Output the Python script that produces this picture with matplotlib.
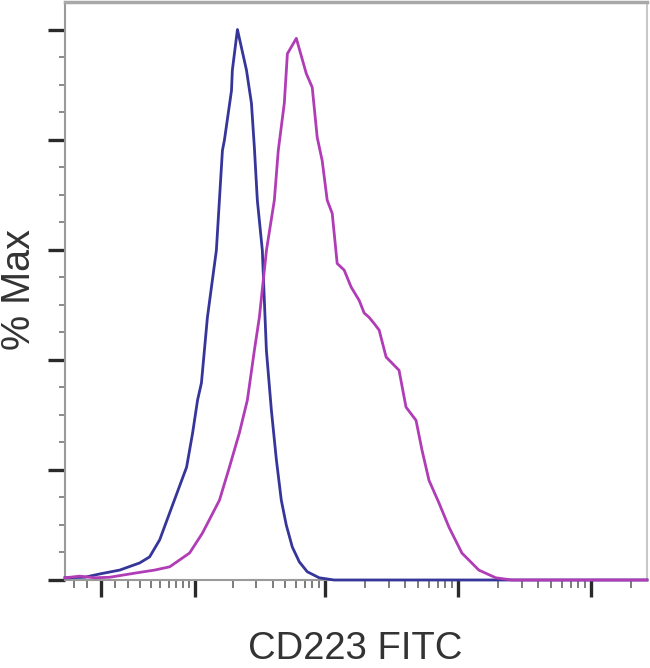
import numpy as np
import matplotlib
matplotlib.use("Agg")
import matplotlib.pyplot as plt

# ---- data (fluorescence intensity, % of max) ----
blue_x = [-27, -11.5, -0.7, 13.7, 29.8, 39, 49.5, 67.6, 86, 96.4, 105.8, 113.6,
          126.7, 149, 166, 172, 195, 198, 216.6, 254, 277, 291.5, 307, 335,
          347, 359.6, 392, 428, 466, 508, 564, 637, 731, 900, 1165, 262144]
blue_y = [0.4, 0.5, 1.1, 1.8, 3.1, 4.2, 7.3, 14.5, 20.5, 26.7, 32.7, 35.8,
          47.7, 59.9, 78, 79.9, 88.9, 92.6, 100, 92.6, 86.6, 78.6, 69, 59.9,
          50.8, 41.7, 30.9, 21.8, 14.5, 10, 6, 3.3, 1.5, 0.4, 0, 0]

mag_x = [-27, -15.2, -4.3, 6.4, 27.2, 44, 61.5, 91, 115.6, 157.5, 188, 224,
         258, 291.5, 318, 360, 413, 442, 491, 518, 605, 719, 797, 869, 947,
         1033, 1127, 1228, 1386, 1565, 1797, 1960, 2136, 2328, 2540, 2866,
         3584, 4045, 4810, 5334, 6020, 7155, 8507, 10640, 14270, 19130,
         25240, 262144]
mag_y = [0.4, 0.7, 0.4, 0.5, 1.3, 1.8, 2.4, 4.9, 8.5, 14.5, 20.5, 26.7,
         32.7, 41.7, 47.7, 59.9, 69, 78, 86.6, 95.6, 98.4, 92, 89.5, 80.4,
         76.2, 69, 66.6, 57.5, 56.3, 53.2, 50.8, 48.5, 47.7, 46.6, 45.4,
         40.5, 38.1, 31.4, 29, 23.6, 18.1, 14, 9.6, 4.9, 1.8, 0.4, 0, 0]

x_major = [0, 100, 1000, 10000, 100000]
x_minor = ([-20, -10, 10] + [k * 10 for k in range(2, 10)]
           + [k * 100 for k in range(2, 10)] + [k * 1000 for k in range(2, 10)]
           + [k * 10000 for k in range(2, 10)] + [200000])
y_major = [0, 20, 40, 60, 80, 100]
y_minor = [v for v in range(0, 105, 5) if v % 20 != 0]

x_label = "CD223 FITC"
y_label = "% Max"

# ---- figure ----
plt.rcParams['font.family'] = ['Liberation Sans', 'DejaVu Sans']
fig = plt.figure(figsize=(6.5, 6.68), dpi=100)
ax = fig.add_axes([65 / 650, 1 - 580 / 668, (647 - 65) / 650, (580 - 2) / 668])

ax.set_xscale('asinh', linear_width=41)
ax.set_xlim(-27, 262144)
ax.set_ylim(0, 105)

ax.plot(blue_x, blue_y, color='#35359a', lw=2.0, zorder=3, clip_on=False,
        solid_joinstyle='round')
ax.plot(mag_x, mag_y, color='#b03cb6', lw=2.0, zorder=3.1, clip_on=False,
        solid_joinstyle='round')

ax.set_xticks(x_major)
ax.set_xticks(x_minor, minor=True)
ax.set_yticks(y_major)
ax.set_yticks(y_minor, minor=True)
ax.set_xticklabels([])
ax.set_yticklabels([])
ax.set_xticklabels([], minor=True)
ax.set_yticklabels([], minor=True)

ax.tick_params(axis='both', which='major', length=12, width=2.4, color='#2a2a2a',
               direction='out')
ax.tick_params(axis='x', which='minor', length=5.5, width=1.2, color='#666666',
               direction='out')
ax.tick_params(axis='y', which='minor', length=4, width=1.2, color='#777777',
               direction='out')

for side in ['left', 'bottom', 'top', 'right']:
    ax.spines[side].set_color('#9a9a9a')
    ax.spines[side].set_linewidth(1.5)
ax.spines['top'].set_color('#a8a8a8')
ax.spines['top'].set_linewidth(2.5)
ax.spines['right'].set_color('#c8c8c8')

fig.text(355 / 650, 1 - 659 / 668, x_label, ha='center', va='baseline',
         fontsize=27.5, color='#333333')
fig.text(19 / 650, 1 - 289 / 668, y_label, ha='center', va='center',
         rotation=90, fontsize=28.5, color='#333333')

fig.savefig('out.png', dpi=100)
